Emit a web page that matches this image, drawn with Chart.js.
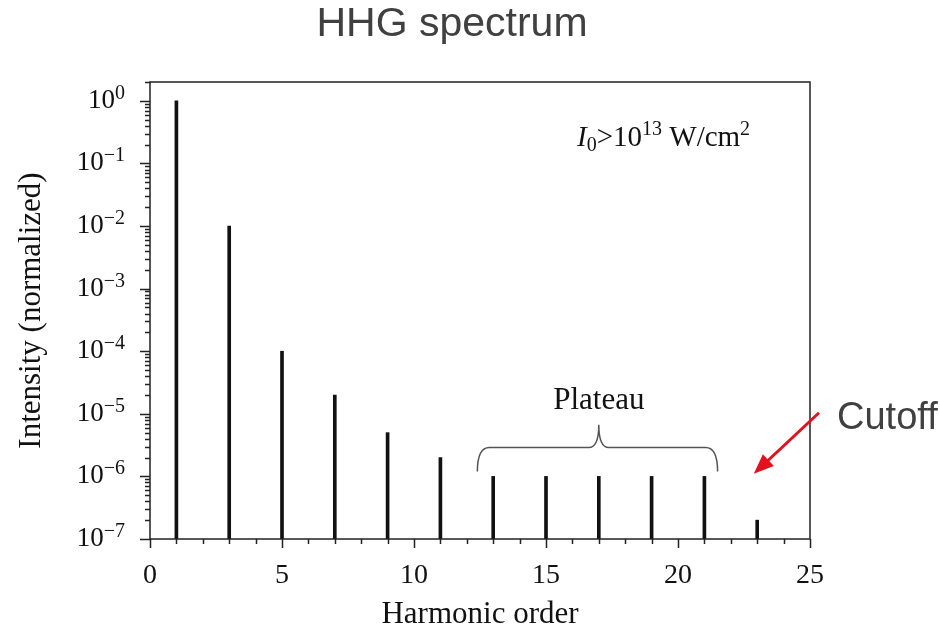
<!DOCTYPE html>
<html>
<head>
<meta charset="utf-8">
<script src="https://cdn.jsdelivr.net/npm/chart.js@4"></script>
<style>
  html, body { margin: 0; padding: 0; background: #fff; }
  #wrap { width: 940px; height: 633px; }
</style>
</head>
<body>
<div id="wrap"><canvas id="hhgChart" width="940" height="633"></canvas></div>
<script>
// harmonic orders and normalized intensities
const harmonics = [1, 3, 5, 7, 9, 11, 13, 15, 17, 19, 21, 23];
const intensity = [1, 1e-2, 1e-4, 2e-5, 5e-6, 2e-6, 1e-6, 1e-6, 1e-6, 1e-6, 1e-6, 2e-7];
const xTicks = [0, 5, 10, 15, 20, 25];
const yTickExps = [0, -1, -2, -3, -4, -5, -6, -7];

const serif = "'Liberation Serif', 'DejaVu Serif', serif";
const sans = "'Liberation Sans', Arial, sans-serif";

// draws a run of pieces [text, size, dy, italic] starting at x
const drawRuns = (ctx, runs, x, y, align) => {
  let total = 0;
  runs.forEach(([t, s, dy, it]) => {
    ctx.font = (it ? "italic " : "") + s + "px " + serif;
    total += ctx.measureText(t).width;
  });
  let cx = align === "right" ? x - total : x;
  runs.forEach(([t, s, dy, it]) => {
    ctx.font = (it ? "italic " : "") + s + "px " + serif;
    ctx.fillText(t, cx, y + dy);
    cx += ctx.measureText(t).width;
  });
};

const decorations = {
  id: "decorations",
  afterDraw(chart) {
    const { ctx, chartArea: a, scales } = chart;
    const x = scales.x, y = scales.y;
    ctx.save();

    // frame
    ctx.strokeStyle = "#222";
    ctx.lineWidth = 1.5;
    ctx.strokeRect(a.left, a.top, a.right - a.left, a.bottom - a.top);

    // x ticks, one per harmonic order
    ctx.beginPath();
    for (let i = 0; i <= 25; i++) {
      const px = Math.round(x.getPixelForValue(i)) + 0.5;
      ctx.moveTo(px, a.bottom);
      ctx.lineTo(px, a.bottom + (i % 5 === 0 ? 9 : 5));
    }
    // y ticks, major at decades and minor in between
    for (let e = -7; e <= 0; e++) {
      for (let m = 1; m <= 9; m++) {
        const v = m * Math.pow(10, e);
        if (v > y.max) break;
        const py = Math.round(y.getPixelForValue(v)) + 0.5;
        ctx.moveTo(a.left, py);
        ctx.lineTo(a.left - (m === 1 ? 10 : 5), py);
      }
    }
    ctx.stroke();

    // y tick labels 10^n
    ctx.fillStyle = "#111";
    ctx.textBaseline = "alphabetic";
    yTickExps.forEach((e) => {
      const py = y.getPixelForValue(Math.pow(10, e));
      const ex = e === 0 ? "0" : "\u2212" + Math.abs(e);
      drawRuns(ctx, [["10", 27, 7, false], [ex, 20, -2, false]], 125, py, "right");
    });

    // intensity note
    drawRuns(ctx, [
      ["I", 29, 0, true], ["0", 20, 5, false], [">10", 29, 0, false],
      ["13", 20, -11, false], [" W/cm", 29, 0, false], ["2", 20, -11, false]
    ], 577, 146, "left");

    // plateau brace
    const bx1 = x.getPixelForValue(12.4), bx2 = x.getPixelForValue(21.5), bxc = x.getPixelForValue(17);
    const yb = y.getPixelForValue(1.2e-6), ym = y.getPixelForValue(2.9e-6), yt = y.getPixelForValue(6.7e-6);
    ctx.strokeStyle = "#555";
    ctx.lineWidth = 1.5;
    ctx.beginPath();
    ctx.moveTo(bx1, yb);
    ctx.quadraticCurveTo(bx1, ym, bx1 + 12, ym);
    ctx.lineTo(bxc - 10, ym);
    ctx.quadraticCurveTo(bxc, ym, bxc, yt);
    ctx.quadraticCurveTo(bxc, ym, bxc + 10, ym);
    ctx.lineTo(bx2 - 12, ym);
    ctx.quadraticCurveTo(bx2, ym, bx2, yb);
    ctx.stroke();
    ctx.fillStyle = "#111";
    ctx.textAlign = "center";
    ctx.font = "31px " + serif;
    ctx.fillText("Plateau", bxc, y.getPixelForValue(1.2e-5));

    // cutoff arrow
    const ax0 = x.getPixelForValue(25.34), ay0 = y.getPixelForValue(1.04e-5);
    const ax1 = x.getPixelForValue(22.87), ay1 = y.getPixelForValue(1.1e-6);
    const ang = Math.atan2(ay1 - ay0, ax1 - ax0);
    ctx.strokeStyle = "#e3101e";
    ctx.fillStyle = "#e3101e";
    ctx.lineWidth = 3;
    ctx.beginPath();
    ctx.moveTo(ax0, ay0);
    ctx.lineTo(ax1 - 14 * Math.cos(ang), ay1 - 14 * Math.sin(ang));
    ctx.stroke();
    ctx.beginPath();
    ctx.moveTo(ax1, ay1);
    ctx.lineTo(ax1 - 20 * Math.cos(ang) + 8 * Math.sin(ang), ay1 - 20 * Math.sin(ang) - 8 * Math.cos(ang));
    ctx.lineTo(ax1 - 20 * Math.cos(ang) - 8 * Math.sin(ang), ay1 - 20 * Math.sin(ang) + 8 * Math.cos(ang));
    ctx.closePath();
    ctx.fill();

    ctx.fillStyle = "#404040";
    ctx.textAlign = "left";
    ctx.font = "38px " + sans;
    ctx.fillText("Cutoff", 837, 429);

    // chart title
    ctx.textAlign = "center";
    ctx.font = "41px " + sans;
    ctx.fillText("HHG spectrum", 452, 36);

    ctx.restore();
  },
};

new Chart(document.getElementById("hhgChart"), {
  type: "bar",
  data: {
    datasets: [
      {
        label: "Intensity",
        data: harmonics.map((h, i) => ({ x: h, y: intensity[i] })),
        backgroundColor: "#111",
        barThickness: 3,
      },
    ],
  },
  options: {
    responsive: false,
    animation: false,
    devicePixelRatio: 1,
    layout: { padding: { top: 82, right: 130, left: 0, bottom: 0 } },
    plugins: { legend: { display: false }, tooltip: { enabled: false }, title: { display: false } },
    scales: {
      x: {
        type: "linear",
        min: 0,
        max: 25,
        offset: false,
        afterBuildTicks: (scale) => { scale.ticks = xTicks.map((v) => ({ value: v })); },
        afterFit: (scale) => { scale.height = 94; },
        grid: { display: false },
        border: { display: false },
        ticks: { color: "#111", padding: 12, font: { family: serif, size: 28 }, maxRotation: 0 },
        title: {
          display: true,
          text: "Harmonic order",
          color: "#111",
          font: { family: serif, size: 31 },
          padding: { top: 0, bottom: 0 },
        },
      },
      y: {
        type: "logarithmic",
        min: 1e-7,
        max: 2,
        afterFit: (scale) => { scale.width = 150; },
        grid: { display: false },
        border: { display: false },
        ticks: { display: false },
        title: {
          display: true,
          text: "Intensity (normalized)",
          color: "#111",
          font: { family: serif, size: 31 },
          padding: { top: 13, bottom: 0 },
        },
      },
    },
  },
  plugins: [decorations],
});
</script>
</body>
</html>
